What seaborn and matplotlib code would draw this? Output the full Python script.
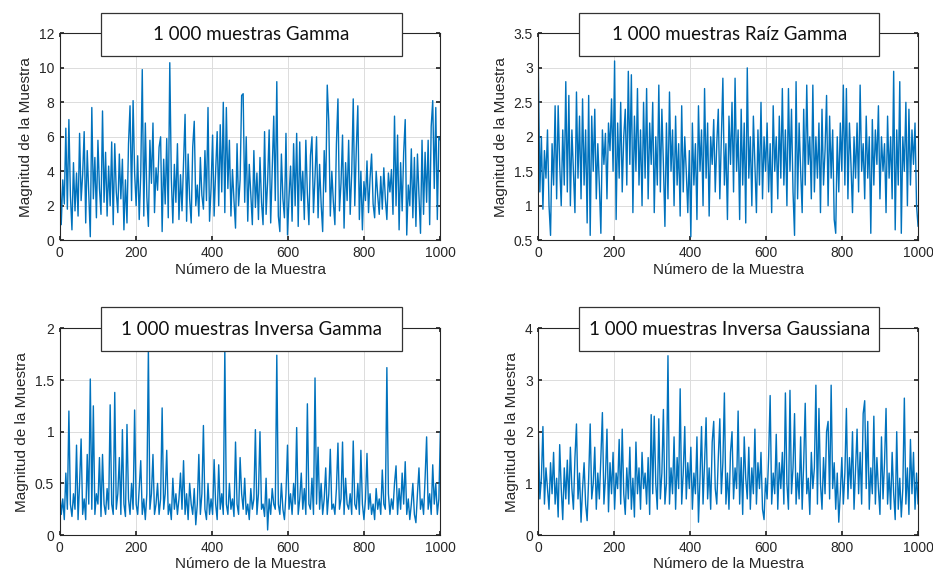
import numpy as np
import pandas as pd
import seaborn as sns
import matplotlib.pyplot as plt
from matplotlib.patches import Rectangle

# values, one every 4 samples
gamma = [
    4.6, 0.9, 3.5, 2.1, 6.5, 1.8, 7.0, 2.6, 0.6, 4.5,
    1.7, 3.9, 1.4, 6.2, 2.3, 3.8, 6.3, 1.0, 5.2, 2.7,
    0.2, 7.7, 2.4, 4.8, 1.3, 5.8, 3.0, 1.5, 7.5, 2.2,
    5.1, 1.4, 4.3, 2.0, 5.7, 0.9, 5.6, 2.8, 1.6, 5.0,
    2.4, 4.7, 0.6, 3.5, 1.0, 5.6, 7.8, 2.3, 8.1, 3.9,
    2.0, 4.9, 1.2, 3.8, 9.9, 1.4, 6.8, 2.5, 0.8, 5.8,
    3.3, 6.8, 1.6, 4.2, 2.9, 5.4, 6.0, 0.5, 4.7, 2.1,
    5.9, 1.3, 10.3, 3.6, 1.0, 4.4, 2.2, 5.6, 1.2, 3.8,
    1.7, 4.6, 7.3, 1.1, 5.0, 2.4, 1.0, 5.4, 6.9, 2.0,
    3.2, 1.4, 4.8, 2.6, 1.8, 5.2, 2.3, 7.7, 1.1, 3.0,
    6.1, 1.4, 4.0, 6.3, 2.0, 6.7, 2.8, 8.0, 1.6, 7.7,
    3.0, 5.8, 1.4, 4.1, 2.3, 0.7, 5.6, 2.0, 3.5, 8.4,
    8.5, 2.2, 6.0, 1.1, 4.4, 2.7, 0.9, 5.2, 1.9, 3.9,
    1.2, 4.8, 2.2, 0.9, 6.3, 1.5, 3.4, 6.4, 1.0, 4.0,
    7.2, 2.3, 9.2, 1.4, 0.5, 5.0, 2.4, 1.3, 6.2, 0.3,
    2.5, 4.3, 1.1, 5.6, 2.0, 6.2, 0.8, 5.7, 2.3, 4.0,
    1.2, 5.8, 2.7, 0.9, 4.9, 6.0, 1.6, 3.7, 6.0, 1.3,
    4.4, 2.1, 0.5, 5.2, 2.8, 9.0, 6.9, 1.4, 4.0, 2.2,
    0.9, 5.6, 8.2, 1.7, 3.3, 6.1, 0.7, 4.5, 2.3, 5.8,
    1.5, 3.9, 8.2, 2.0, 5.3, 7.8, 1.2, 4.0, 0.6, 3.4,
    2.3, 4.6, 1.6, 3.6, 5.0, 2.1, 1.3, 4.0, 2.6, 1.5,
    3.7, 1.8, 4.2, 2.4, 1.2, 3.9, 2.8, 4.1, 1.5, 7.2,
    2.0, 6.1, 0.6, 4.5, 1.7, 5.1, 7.0, 0.3, 3.2, 2.0,
    5.3, 1.3, 4.8, 0.8, 5.0, 2.6, 0.4, 5.8, 1.5, 5.1,
    2.2, 5.8, 0.9, 6.6, 8.1, 3.0, 7.7, 1.2, 6.0, 5.8,
]

raiz_gamma = [
    3.0, 1.2, 2.0, 0.95, 1.8, 1.4, 2.1, 1.0, 0.57, 1.9,
    1.3, 2.45, 1.1, 2.45, 1.6, 1.0, 2.1, 1.3, 2.8, 1.2,
    2.6, 1.0, 2.1, 1.5, 0.9, 2.65, 1.4, 2.3, 1.1, 2.55,
    1.3, 2.1, 0.75, 2.6, 0.57, 2.3, 1.5, 2.4, 1.1, 1.9,
    1.3, 0.6, 2.1, 1.6, 2.05, 1.1, 2.2, 1.8, 2.55, 1.5,
    3.1, 0.8, 2.2, 1.4, 2.5, 1.2, 2.0, 2.4, 1.3, 2.95,
    1.6, 2.9, 0.9, 2.3, 1.5, 2.7, 1.3, 2.1, 1.0, 2.5,
    1.4, 2.7, 1.1, 2.2, 1.6, 2.5, 0.9, 2.0, 1.3, 2.75,
    1.2, 2.4, 1.6, 0.7, 2.2, 1.1, 2.65, 1.5, 2.1, 1.0,
    2.3, 1.3, 1.9, 0.85, 2.45, 1.2, 2.0, 1.5, 0.9, 1.8,
    0.55, 2.2, 1.3, 1.9, 0.8, 2.45, 1.5, 2.1, 1.0, 2.7,
    1.4, 2.2, 0.85, 2.0, 1.6, 2.25, 1.2, 1.9, 2.4, 1.1,
    2.0, 2.85, 1.3, 1.9, 0.8, 2.3, 1.6, 2.5, 1.2, 2.85,
    1.5, 2.1, 0.8, 2.4, 1.3, 2.2, 0.75, 3.0, 1.4, 2.0,
    1.0, 2.3, 1.6, 0.9, 2.1, 1.3, 2.5, 1.1, 2.0, 1.5,
    2.2, 1.2, 1.9, 0.9, 2.45, 1.5, 2.0, 1.1, 2.3, 1.4,
    2.7, 1.3, 2.1, 1.0, 2.7, 1.5, 2.4, 1.2, 0.57, 2.8,
    1.1, 2.2, 1.5, 0.9, 2.4, 1.3, 2.75, 1.6, 2.0, 1.1,
    2.75, 1.2, 2.0, 1.4, 2.2, 0.9, 2.4, 1.3, 1.8, 2.6,
    1.0, 2.3, 1.4, 2.1, 0.8, 0.6, 2.0, 1.2, 2.2, 1.5,
    2.75, 1.3, 2.7, 1.1, 2.2, 1.6, 0.9, 2.0, 1.4, 2.2,
    1.2, 2.75, 1.5, 1.9, 1.1, 2.3, 1.4, 2.0, 0.6, 2.25,
    1.3, 2.1, 1.6, 2.45, 1.1, 2.0, 1.5, 1.9, 0.9, 2.3,
    1.4, 2.0, 1.1, 2.95, 0.65, 2.1, 1.3, 2.8, 0.6, 2.0,
    1.5, 2.5, 1.0, 2.4, 1.3, 2.1, 1.6, 2.2, 1.0, 0.7,
]

inversa_gamma = [
    0.45, 0.2, 0.35, 0.15, 0.6, 0.25, 1.2, 0.3, 0.18, 0.4,
    0.25, 0.87, 0.15, 0.5, 0.93, 0.2, 0.35, 0.15, 0.78, 0.3,
    1.51, 0.25, 1.25, 0.2, 0.4, 0.3, 0.75, 0.18, 0.78, 0.3,
    0.2, 0.45, 0.25, 1.26, 0.3, 0.2, 1.38, 0.25, 0.4, 0.75,
    0.2, 1.02, 0.3, 0.18, 1.07, 0.35, 0.2, 0.5, 0.25, 1.21,
    0.3, 0.2, 0.45, 0.72, 0.2, 0.35, 0.15, 0.4, 1.8, 0.25,
    0.4, 0.78, 0.2, 0.3, 0.5, 0.2, 0.35, 1.23, 0.25, 0.4,
    0.82, 0.2, 0.3, 0.15, 0.55, 0.25, 0.4, 0.2, 0.35, 0.6,
    0.25, 0.72, 0.2, 0.4, 0.15, 0.5, 0.3, 0.2, 0.45, 0.1,
    0.3, 0.78, 0.2, 0.4, 1.06, 0.25, 0.15, 0.5, 0.2, 0.35,
    0.2, 0.73, 0.3, 0.15, 0.68, 0.25, 0.4, 0.2, 1.8, 0.3,
    0.2, 0.5, 0.25, 0.35, 0.18, 0.9, 0.3, 0.2, 0.75, 0.4,
    0.25, 0.55, 0.2, 0.3, 0.15, 0.45, 0.25, 0.35, 1.02, 0.2,
    0.4, 1.0, 0.25, 0.3, 0.18, 0.55, 0.05, 0.35, 0.2, 0.45,
    0.3, 0.25, 1.74, 0.3, 0.2, 0.5, 0.25, 0.15, 0.4, 0.87,
    0.25, 0.4, 0.2, 0.5, 0.3, 1.04, 0.2, 0.35, 0.6, 0.25,
    0.45, 0.2, 1.27, 0.3, 0.25, 0.55, 0.2, 1.52, 0.3, 0.85,
    0.25, 0.5, 0.2, 0.35, 0.65, 0.2, 0.4, 0.83, 0.25, 0.3,
    0.2, 0.45, 0.89, 0.25, 0.35, 0.9, 0.2, 0.55, 0.3, 0.25,
    0.4, 0.2, 0.91, 0.3, 0.25, 0.5, 0.2, 0.82, 0.3, 0.15,
    0.35, 0.79, 0.25, 0.4, 0.2, 0.3, 0.15, 0.45, 0.25, 0.35,
    0.2, 0.63, 0.3, 0.25, 1.62, 0.4, 0.2, 0.35, 0.25, 0.5,
    0.67, 0.2, 0.45, 0.25, 0.6, 0.3, 0.71, 0.2, 0.35, 0.15,
    0.3, 0.5, 0.2, 0.12, 0.4, 0.65, 0.25, 0.35, 0.2, 0.55,
    0.95, 0.25, 0.4, 0.2, 0.68, 0.3, 0.5, 0.2, 0.35, 1.0,
]

inversa_gaussiana = [
    2.0, 0.7, 1.1, 2.1, 0.6, 1.3, 0.9, 0.5, 1.4, 0.8,
    1.6, 0.6, 1.1, 0.35, 1.75, 0.9, 0.3, 1.3, 0.7, 1.45,
    0.6, 1.7, 0.9, 0.5, 1.5, 2.15, 0.7, 1.2, 0.25, 0.9,
    1.4, 0.6, 0.28, 1.1, 2.15, 0.7, 1.0, 1.7, 0.5, 1.2,
    0.7, 1.5, 2.37, 0.6, 1.1, 2.05, 0.45, 1.4, 0.8, 1.6,
    0.5, 1.2, 0.9, 1.85, 0.6, 2.05, 0.8, 0.4, 1.3, 0.7,
    1.7, 0.5, 1.1, 0.35, 1.8, 0.8, 1.3, 0.5, 1.6, 0.9,
    1.2, 0.6, 1.5, 0.4, 2.33, 0.8, 2.3, 1.0, 0.5, 2.25,
    0.7, 1.2, 2.43, 0.6, 1.0, 3.47, 0.6, 1.3, 0.8, 1.9,
    0.5, 1.5, 0.9, 2.83, 0.6, 1.2, 2.1, 0.7, 1.4, 0.9,
    1.7, 0.5, 1.2, 0.8, 1.9, 0.25, 1.1, 2.1, 0.6, 1.4,
    2.27, 0.7, 1.3, 0.5, 1.8, 2.2, 0.9, 0.6, 1.5, 2.25,
    0.8, 1.4, 2.75, 0.6, 1.2, 0.5, 1.6, 2.0, 0.7, 1.3,
    0.9, 2.4, 0.6, 1.5, 0.4, 1.9, 1.1, 0.7, 1.7, 0.5,
    1.3, 0.8, 2.05, 0.6, 1.4, 0.9, 1.6, 0.5, 0.3, 1.1,
    0.7, 1.5, 2.7, 0.6, 1.2, 0.8, 1.95, 0.5, 1.4, 0.9,
    1.6, 0.6, 2.75, 1.0, 0.5, 2.8, 0.8, 1.3, 2.35, 0.6,
    1.2, 0.7, 1.9, 0.5, 1.4, 2.55, 0.8, 1.1, 0.4, 1.6,
    0.9, 1.3, 2.9, 0.6, 2.45, 1.0, 0.5, 1.5, 0.8, 2.0,
    2.2, 0.7, 2.9, 0.9, 1.4, 0.5, 1.2, 0.25, 0.8, 1.5,
    0.6, 1.2, 2.45, 0.7, 1.5, 0.9, 2.0, 0.5, 1.3, 2.05,
    0.8, 1.6, 0.6, 2.35, 2.6, 0.9, 2.2, 0.5, 1.3, 0.8,
    2.3, 0.6, 1.5, 0.9, 0.4, 1.9, 0.7, 1.4, 2.45, 0.6,
    1.2, 0.5, 1.6, 0.8, 0.3, 2.0, 0.5, 1.1, 0.35, 0.9,
    2.65, 0.6, 1.3, 0.4, 1.85, 0.8, 1.6, 0.5, 1.2, 0.6,
]

titles = ["1 000 muestras Gamma", "1 000 muestras Raíz Gamma",
          "1 000 muestras Inversa Gamma", "1 000 muestras Inversa Gaussiana"]
series = [gamma, raiz_gamma, inversa_gamma, inversa_gaussiana]
ylims = [(0, 12), (0.5, 3.5), (0, 2), (0, 4)]
yticks = [[0, 2, 4, 6, 8, 10, 12], [0.5, 1, 1.5, 2, 2.5, 3, 3.5],
          [0, 0.5, 1, 1.5, 2], [0, 1, 2, 3, 4]]
ytick_labels = [["0", "2", "4", "6", "8", "10", "12"],
                ["0.5", "1", "1.5", "2", "2.5", "3", "3.5"],
                ["0", "0.5", "1", "1.5", "2"], ["0", "1", "2", "3", "4"]]
xticks = [0, 200, 400, 600, 800, 1000]

sns.set_theme(style="ticks")
plt.rcParams['font.family'] = ['Liberation Sans', 'DejaVu Sans']

fig = plt.figure(figsize=(9.33, 5.76), dpi=100)
positions = [[0.064, 0.583, 0.408, 0.359], [0.577, 0.583, 0.407, 0.359],
             [0.064, 0.071, 0.408, 0.359], [0.577, 0.071, 0.407, 0.359]]

for k in range(4):
    ax = fig.add_axes(positions[k])
    df = pd.DataFrame({"muestra": np.linspace(0, 1000, len(series[k])),
                       "valor": series[k]})
    sns.lineplot(data=df, x="muestra", y="valor", ax=ax, color="#0072BD",
                 linewidth=1.0)
    ax.set_xlim(0, 1000)
    ax.set_ylim(*ylims[k])
    ax.set_xticks(xticks)
    ax.set_xticklabels([str(t) for t in xticks])
    ax.set_yticks(yticks[k])
    ax.set_yticklabels(ytick_labels[k])
    ax.grid(True, color="#dcdcdc", linewidth=0.7)
    ax.tick_params(direction="in", top=True, right=True, length=3,
                   labelsize=10, colors="#262626", pad=4)
    for s in ax.spines.values():
        s.set_visible(True)
        s.set_color("#262626")
        s.set_linewidth(0.8)
    ax.set_xlabel("Número de la Muestra", fontsize=11, color="#262626", labelpad=2)
    ax.set_ylabel("Magnitud de la Muestra", fontsize=11, color="#262626", labelpad=4)

    rect = Rectangle((0.108, 0.889), 0.79, 0.212, transform=ax.transAxes,
                     facecolor="white", edgecolor="#333333", linewidth=0.9,
                     clip_on=False, zorder=5)
    ax.add_patch(rect)
    ax.text(0.503, 0.995, titles[k], transform=ax.transAxes, ha="center",
            va="center", fontsize=13.5, family=["Lato", "DejaVu Sans"],
            color="#111111", zorder=6)

fig.savefig("out.png", dpi=100)
